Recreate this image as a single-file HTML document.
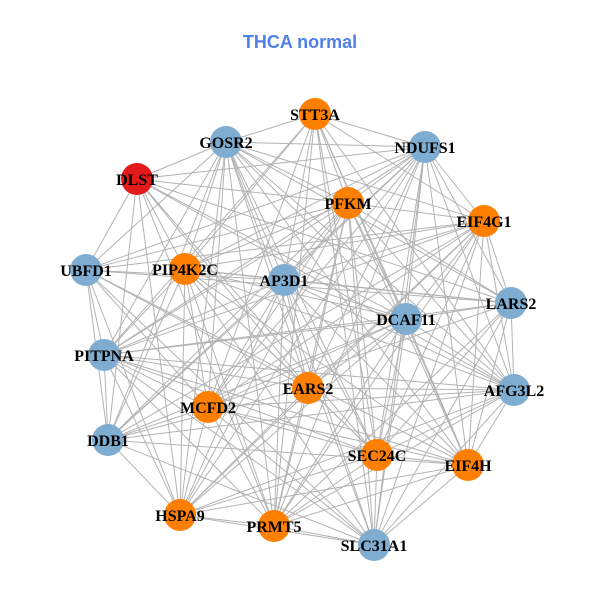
<!DOCTYPE html>
<html><head><meta charset="utf-8"><style>
html,body{margin:0;padding:0;background:#fff;width:600px;height:600px;overflow:hidden}
svg text{font-family:"Liberation Serif",serif;font-weight:bold;font-size:16px;fill:#000}
</style></head><body>
<svg id="s" width="600" height="600" xmlns="http://www.w3.org/2000/svg">
<text x="300" y="48" text-anchor="middle" style="font-family:'Liberation Sans',sans-serif;font-size:18px;fill:#4f7fe8">THCA normal</text>
<g id="e" stroke="#b3b3b3" stroke-width="1"></g>
<g id="n"></g>
<g id="t">
<text x="315" y="120" text-anchor="middle">STT3A</text>
<text x="226" y="148" text-anchor="middle">GOSR2</text>
<text x="425" y="153" text-anchor="middle">NDUFS1</text>
<text x="137" y="185" text-anchor="middle">DLST</text>
<text x="348" y="209" text-anchor="middle">PFKM</text>
<text x="484" y="227" text-anchor="middle">EIF4G1</text>
<text x="86" y="276" text-anchor="middle">UBFD1</text>
<text x="185" y="275" text-anchor="middle">PIP4K2C</text>
<text x="284" y="286" text-anchor="middle">AP3D1</text>
<text x="511" y="309" text-anchor="middle">LARS2</text>
<text x="406" y="325" text-anchor="middle">DCAF11</text>
<text x="104" y="361" text-anchor="middle">PITPNA</text>
<text x="308" y="394" text-anchor="middle">EARS2</text>
<text x="514" y="396" text-anchor="middle">AFG3L2</text>
<text x="208" y="413" text-anchor="middle">MCFD2</text>
<text x="108" y="446" text-anchor="middle">DDB1</text>
<text x="377" y="461" text-anchor="middle">SEC24C</text>
<text x="468" y="471" text-anchor="middle">EIF4H</text>
<text x="180" y="521" text-anchor="middle">HSPA9</text>
<text x="274" y="532" text-anchor="middle">PRMT5</text>
<text x="374" y="551" text-anchor="middle">SLC31A1</text>
</g>
</svg>
<script>
var B="#7fadd2",O="#ff7f00",R="#e31a1c";
var N=[[315,114,O],[226,142,B],[425,147,B],[137,179,R],[348,203,O],[484,221,O],[86,270,B],[185,269,O],[284,280,B],[511,303,B],[406,319,B],[104,355,B],[308,388,O],[514,390,B],[208,407,O],[108,440,B],[377,455,O],[468,465,O],[180,515,O],[274,526,O],[374,545,B]];
var ns="http://www.w3.org/2000/svg",e=document.getElementById("e"),n=document.getElementById("n");
for(var i=0;i<N.length;i++)for(var j=i+1;j<N.length;j++){
 if((i*7+j*3)%9==0)continue;
 var l=document.createElementNS(ns,"line");
 l.setAttribute("x1",N[i][0]);l.setAttribute("y1",N[i][1]);l.setAttribute("x2",N[j][0]);l.setAttribute("y2",N[j][1]);e.appendChild(l);}
N.forEach(function(p){var c=document.createElementNS(ns,"circle");c.setAttribute("cx",p[0]);c.setAttribute("cy",p[1]);c.setAttribute("r",16);c.setAttribute("fill",p[2]);n.appendChild(c);});
</script>
</body></html>
